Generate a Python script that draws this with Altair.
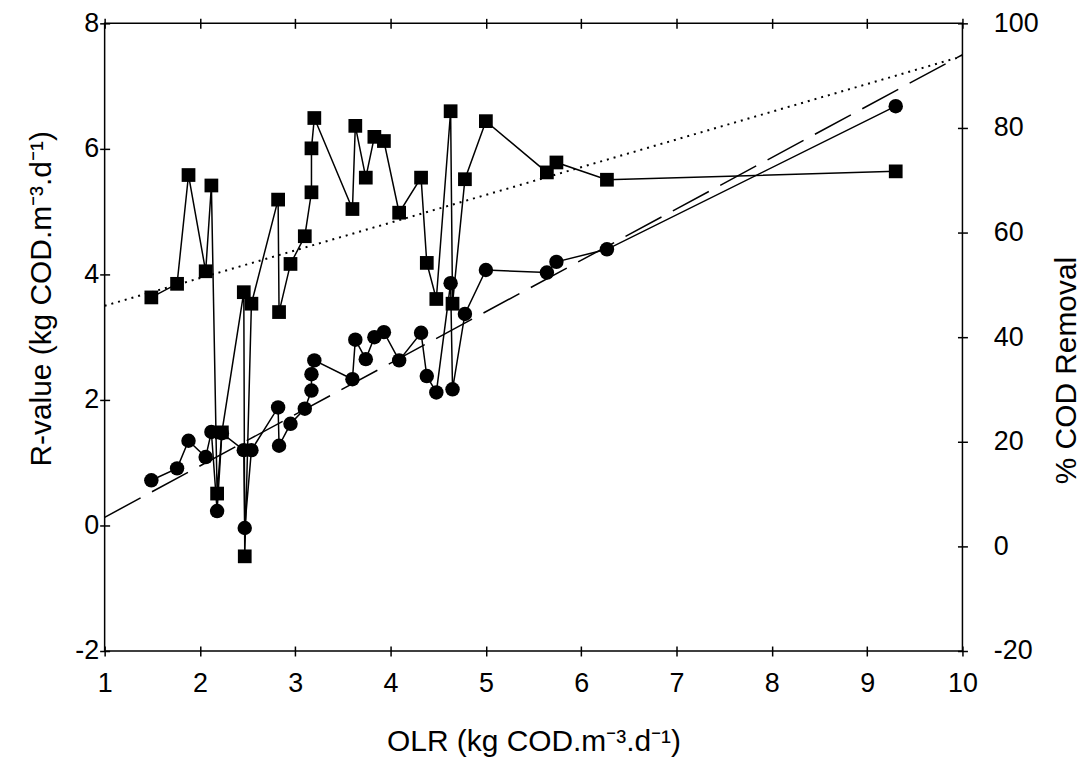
import altair as alt
import pandas as pd

# ---- data ----
olr = [1.49, 1.76, 1.88, 2.06, 2.12, 2.18, 2.23, 2.46, 2.47, 2.54,
       2.82, 2.83, 2.95, 3.10, 3.17, 3.17, 3.20, 3.60, 3.63, 3.74,
       3.83, 3.93, 4.09, 4.32, 4.38, 4.48, 4.63, 4.65, 4.78, 5.00,
       5.64, 5.74, 6.27, 9.30]
cod_removal = [47.6, 50.2, 71.0, 52.6, 69.0, 10.1, 21.8, 48.6, -1.9, 46.4,
               66.3, 44.8, 54.0, 59.3, 67.7, 76.1, 81.9, 64.5, 80.4, 70.5,
               78.3, 77.5, 63.8, 70.5, 54.2, 47.3, 83.2, 46.4, 70.2, 81.3,
               71.5, 73.4, 70.1, 71.7]
r_value = [0.72, 0.91, 1.35, 1.09, 1.49, 0.23, 1.47, 1.20, -0.04, 1.20,
           1.88, 1.27, 1.62, 1.86, 2.15, 2.41, 2.63, 2.33, 2.96, 2.65,
           3.00, 3.08, 2.63, 3.07, 2.38, 2.12, 3.86, 2.17, 3.37, 4.07,
           4.03, 4.20, 4.40, 6.68]
trend_olr = [1, 10]
trend_r = [0.13, 7.5]
trend_cod = [46.0, 93.7]

x_ticks = [1, 2, 3, 4, 5, 6, 7, 8, 9, 10]
yl_ticks = [-2, 0, 2, 4, 6, 8]
yr_ticks = [-20, 0, 20, 40, 60, 80, 100]

df = pd.DataFrame({"idx": list(range(len(olr))), "olr": olr,
                   "cod": cod_removal, "r": r_value})
tr = pd.DataFrame({"olr": trend_olr, "r": trend_r, "cod": trend_cod})

FONT = "Liberation Sans"
FS = 27
TFS = 30

xs = alt.Scale(domain=[1, 10], nice=False, zero=False)
yls = alt.Scale(domain=[-2, 8], nice=False, zero=False)
yrs = alt.Scale(domain=[-20, 100], nice=False, zero=False)

common = dict(domain=False, grid=False, tickSize=10, offset=-5,
              tickColor="black", tickWidth=1.5,
              labelFont=FONT, labelFontSize=FS, labelColor="black",
              labelExpr="'' + datum.value",
              titleFont=FONT, titleFontSize=TFS, titleFontWeight="normal",
              titleColor="black")

x_bottom = alt.X("olr:Q", scale=xs, axis=alt.Axis(
    orient="bottom", values=x_ticks, labelPadding=15, labelFlush=False,
    title="OLR (kg COD.m⁻³.d⁻¹)", titleY=105, titleBaseline="alphabetic",
    **common))
x_top = alt.X("olr:Q", scale=xs, axis=alt.Axis(
    orient="top", values=x_ticks, labels=False, title="", **common))
x_none = alt.X("olr:Q", scale=xs, axis=None)

y_left = alt.Y("r:Q", scale=yls, axis=alt.Axis(
    orient="left", values=yl_ticks, labelPadding=1,
    title="R-value (kg COD.m⁻³.d⁻¹)", titleAngle=270, titleX=-68, titleY=276,
    titleAlign="center", titleBaseline="middle", **common))
y_left_none = alt.Y("r:Q", scale=yls, axis=None)

y_right = alt.Y("cod:Q", scale=yrs, axis=alt.Axis(
    orient="right", values=yr_ticks, labelPadding=26,
    title="% COD Removal", titleAngle=270, titleX=109, titleY=348,
    titleAlign="center", titleBaseline="middle", **common))
y_right_none = alt.Y("cod:Q", scale=yrs, axis=None)

base = alt.Chart(df)

r_line = base.mark_line(color="black", strokeWidth=1.5).encode(
    x=x_bottom, y=y_left, order="idx:Q")
r_pts = base.mark_point(shape="circle", filled=True, size=210, color="black",
                        opacity=1).encode(x=x_none, y=y_left_none)
r_trend = alt.Chart(tr).mark_line(color="black", strokeWidth=1.5,
                                  strokeDash=[41, 13]).encode(x=x_top, y=y_left_none)

c_line = base.mark_line(color="black", strokeWidth=1.5).encode(
    x=x_none, y=y_right, order="idx:Q")
c_pts = base.mark_point(shape="square", filled=True, size=190, color="black",
                        opacity=1).encode(x=x_none, y=y_right_none)
c_trend = alt.Chart(tr).mark_line(color="black", strokeWidth=2,
                                  strokeDash=[2, 5]).encode(x=x_none, y=y_right_none)

chart = alt.layer(r_line, r_trend, c_line, c_trend, r_pts, c_pts).resolve_scale(
    y="independent").resolve_axis(x="independent", y="independent").properties(
    width=861, height=630,
    autosize=alt.AutoSizeParams(type="none"),
    padding={"left": 97, "top": 14, "right": 120, "bottom": 108},
    background="white",
).configure_view(stroke="black", strokeWidth=1.5)

chart.save("out.html", embed_options={"renderer": "svg", "actions": False})
